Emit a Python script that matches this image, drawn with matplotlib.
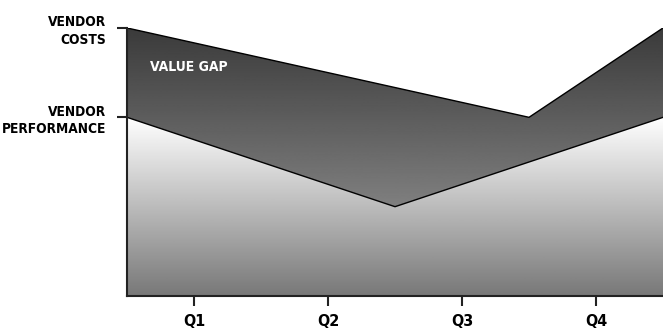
import numpy as np
import matplotlib
matplotlib.use("Agg")
import matplotlib.pyplot as plt
from matplotlib.patches import Polygon

# data (x in category units, 0..4)
quarters = ["Q1", "Q2", "Q3", "Q4"]
cost_x = [0, 3, 4]
cost_y = [3, 2, 3]
perf_x = [0, 2, 4]
perf_y = [2, 1, 2]
level_ticks = [2, 3]
level_labels = ["VENDOR\nPERFORMANCE", "VENDOR\nCOSTS"]

font = dict(family="DejaVu Sans", weight="heavy", stretch="condensed")

fig = plt.figure(figsize=(6.63, 3.33), dpi=100)
ax = fig.add_axes([0.1916, 0.111, 0.8084, 0.805])
ax.set_xlim(0, 4)
ax.set_ylim(0, 3)

xs = np.linspace(0, 4, 401)
cost = np.interp(xs, cost_x, cost_y)
perf = np.interp(xs, perf_x, perf_y)

def gradient_fill(top, bottom, c_top, c_bot, y0, y1):
    grad = np.linspace(c_bot, c_top, 256).reshape(-1, 1)
    img = ax.imshow(grad, extent=[0, 4, y0, y1], origin="lower", cmap="gray",
                    vmin=0, vmax=1, aspect="auto", zorder=1)
    verts = np.vstack([np.column_stack([xs, top]),
                       np.column_stack([xs[::-1], bottom[::-1]])])
    poly = Polygon(verts, closed=True, facecolor="none", edgecolor="none")
    ax.add_patch(poly)
    img.set_clip_path(poly)

# value gap (dark) and performance (light) areas
gradient_fill(cost, perf, 0.23, 0.50, 1, 3)
gradient_fill(perf, np.zeros_like(xs), 1.0, 0.47, 0, 2)

ax.plot(cost_x, cost_y, color="black", lw=1, zorder=3)
ax.plot(perf_x, perf_y, color="black", lw=1, zorder=3)

ax.text(0.17, 2.56, "VALUE GAP", color="white", fontsize=10, va="center",
        ha="left", **font)

for s in ["top", "right"]:
    ax.spines[s].set_visible(False)
for s in ["left", "bottom"]:
    ax.spines[s].set_color("#222222")
    ax.spines[s].set_linewidth(1.5)
    ax.spines[s].set_zorder(4)

ax.set_xticks(np.arange(len(quarters)) + 0.5)
ax.set_xticklabels(quarters, **font, fontsize=11.5)
ax.set_yticks(level_ticks)
ax.set_yticklabels(level_labels, **font, fontsize=9.8, linespacing=1.3,
                   multialignment="right")
ax.tick_params(axis="x", length=7, width=1.5, color="#222222", pad=6)
ax.tick_params(axis="y", length=7, width=1.5, color="#222222", pad=8)

fig.savefig("out.png", dpi=100)
